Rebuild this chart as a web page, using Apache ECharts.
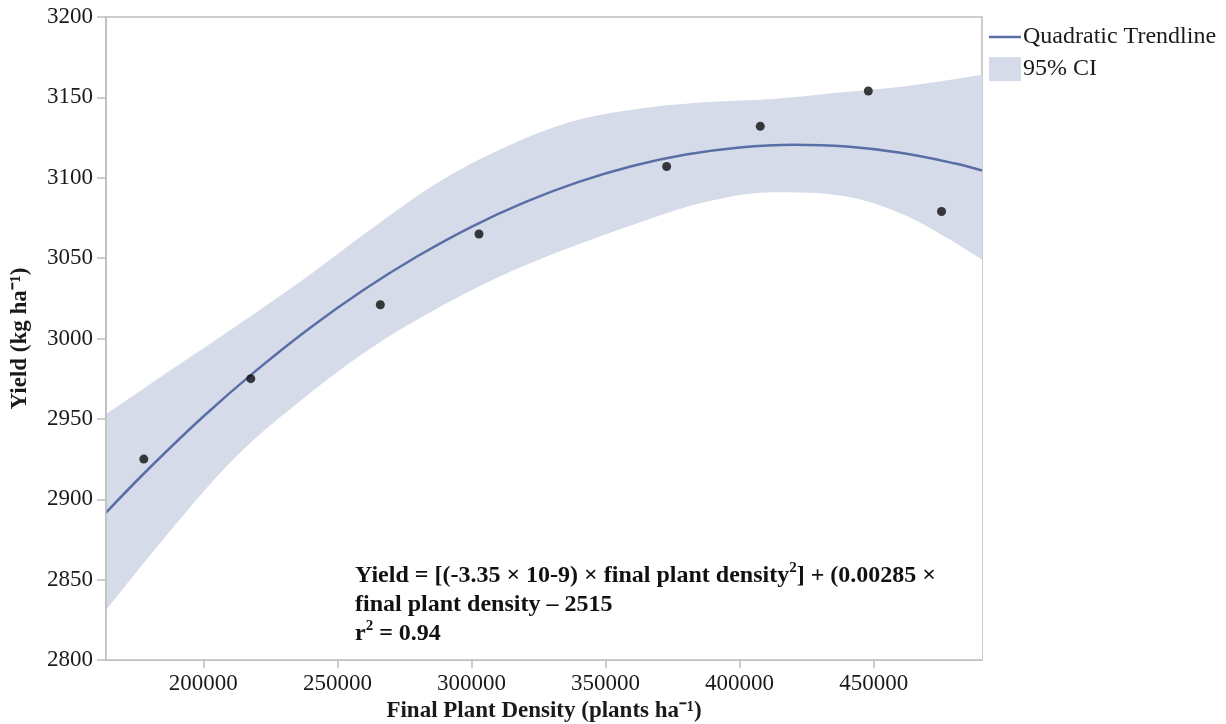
<!DOCTYPE html>
<html>
<head>
<meta charset="utf-8">
<script src="https://cdn.jsdelivr.net/npm/echarts@6/dist/echarts.min.js"></script>
<style>
html,body{margin:0;padding:0;background:#fff;}
#chart{width:1226px;height:724px;}
</style>
</head>
<body>
<div id="chart"></div>
<script>
// Observed data points
const pointX = [177800, 217700, 266000, 302800, 372800, 407700, 448000, 475300];
const pointY = [2925, 2975, 3021, 3065, 3107, 3132, 3154, 3079];

// Quadratic trendline
const trendX = [163700, 180000, 200000, 220000, 240000, 260000, 280000, 300000, 320000, 340000, 360000, 380000, 400000, 420000, 440000, 460000, 480000, 490400];
const trendY = [2891.7, 2919.6, 2951.5, 2980.5, 3006.9, 3030.5, 3051.3, 3069.5, 3084.8, 3097.4, 3107.3, 3114.4, 3118.8, 3120.5, 3119.4, 3115.5, 3109.0, 3104.5];

// 95% confidence band
const bandX     = [163700, 187500, 212500, 237500, 262500, 287500, 312500, 337500, 362500, 387500, 412500, 437500, 462500, 490400];
const bandUpper = [2953, 2980, 3008, 3037, 3068, 3097, 3119, 3135, 3143, 3147, 3149, 3153, 3157, 3164];
const bandLower = [2831, 2880, 2927, 2963, 2994, 3019, 3040, 3057, 3072, 3085, 3091, 3089, 3076, 3049];

// Axis ticks
const xTicks = [200000, 250000, 300000, 350000, 400000, 450000];
const xMin = 163700, xMax = 490400;
const yMin = 2800, yMax = 3200, yStep = 50;

const serif = '"Liberation Serif", "Times New Roman", serif';
const bandColor = '#d6dbe9';
const lineColor = '#5a6ea6';
const axisColor = '#bdbdbd';
const textColor = '#1a1a1a';

const chart = echarts.init(document.getElementById('chart'), null, {renderer: 'canvas'});

const option = {
  animation: false,
  backgroundColor: '#ffffff',
  grid: {
    left: 106, right: 244, top: 17, bottom: 64,
    outerBoundsMode: 'none', containLabel: false,
    show: true, borderColor: axisColor, borderWidth: 1.5, backgroundColor: 'transparent'
  },
  legend: [
    {
      data: [{name: 'Quadratic Trendline', icon: 'path://M0,0 L32,0 L32,2.5 L0,2.5 Z', itemStyle: {color: lineColor, borderWidth: 0}}],
      left: 989, top: 25, orient: 'vertical', padding: 0,
      itemWidth: 32, itemHeight: 2.5,
      textStyle: {fontFamily: serif, fontSize: 24, color: textColor, padding: [0,0,0,-3]},
      selectedMode: false
    },
    {
      data: [{name: '95% CI', icon: 'rect', itemStyle: {color: bandColor, borderWidth: 0}}],
      left: 989, top: 57, orient: 'vertical', padding: 0,
      itemWidth: 32, itemHeight: 24,
      textStyle: {fontFamily: serif, fontSize: 24, color: textColor, padding: [2,0,0,-3]},
      selectedMode: false
    }
  ],
  xAxis: {
    type: 'value', min: xMin, max: xMax, z: 5,
    name: 'Final Plant Density (plants ha\u207B\u00B9)',
    nameLocation: 'middle', nameGap: 38,
    nameTextStyle: {fontFamily: serif, fontSize: 23, fontWeight: 'bold', color: textColor},
    axisLine: {show: true, lineStyle: {color: axisColor, width: 1.5}},
    axisTick: {show: true, length: 8, customValues: xTicks, lineStyle: {color: axisColor, width: 1.5}},
    axisLabel: {customValues: xTicks, formatter: v => String(v), fontFamily: serif, fontSize: 23, color: textColor, margin: 12},
    splitLine: {show: false}
  },
  yAxis: {
    type: 'value', min: yMin, max: yMax, interval: yStep, z: 5,
    name: 'Yield (kg ha\u207B\u00B9)',
    nameLocation: 'middle', nameGap: 74, nameRotate: 90,
    nameTextStyle: {fontFamily: serif, fontSize: 23, fontWeight: 'bold', color: textColor},
    axisLine: {show: true, lineStyle: {color: axisColor, width: 1.5}},
    axisTick: {show: true, length: 9, lineStyle: {color: axisColor, width: 1.5}},
    axisLabel: {formatter: v => String(v), fontFamily: serif, fontSize: 23, color: textColor, margin: 13},
    splitLine: {show: false}
  },
  series: [
    {
      name: '95% CI', type: 'line', silent: true, symbol: 'none', smooth: 0.35,
      itemStyle: {color: bandColor},
      lineStyle: {width: 0, opacity: 0},
      areaStyle: {color: bandColor, opacity: 1, origin: 'start'},
      data: bandX.map((x, i) => [x, bandUpper[i]]),
      z: 1
    },
    {
      name: 'ciLowerMask', type: 'line', silent: true, symbol: 'none', smooth: 0.35,
      itemStyle: {color: '#ffffff'},
      lineStyle: {width: 0, opacity: 0},
      areaStyle: {color: '#ffffff', opacity: 1, origin: 'start'},
      data: bandX.map((x, i) => [x, bandLower[i]]),
      z: 1
    },
    {
      name: 'Quadratic Trendline', type: 'line', symbol: 'none', smooth: 0.4,
      itemStyle: {color: lineColor},
      lineStyle: {color: lineColor, width: 2.5},
      data: trendX.map((x, i) => [x, trendY[i]]),
      z: 2
    },
    {
      name: 'points', type: 'scatter', symbolSize: 9,
      itemStyle: {color: '#0d0d0d'},
      data: pointX.map((x, i) => [x, pointY[i]]),
      z: 3
    }
  ],
  graphic: [
    {
      type: 'text', left: 355, top: 561, z: 10,
      style: {
        text: '{b|Yield = [(-3.35 \u00D7 10-9) \u00D7 final plant density}{s|2}{b|] + (0.00285 \u00D7}\n' +
              '{b|final plant density \u2013 2515}\n' +
              '{b|r}{s|2}{b| = 0.94}',
        rich: {
          b: {fontFamily: serif, fontSize: 24, fontWeight: 'bold', fill: '#111', lineHeight: 29},
          s: {fontFamily: serif, fontSize: 15, fontWeight: 'bold', fill: '#111', lineHeight: 29, verticalAlign: 'top', padding: [0,0,10,0]}
        }
      }
    }
  ]
};

chart.setOption(option);
</script>
</body>
</html>
